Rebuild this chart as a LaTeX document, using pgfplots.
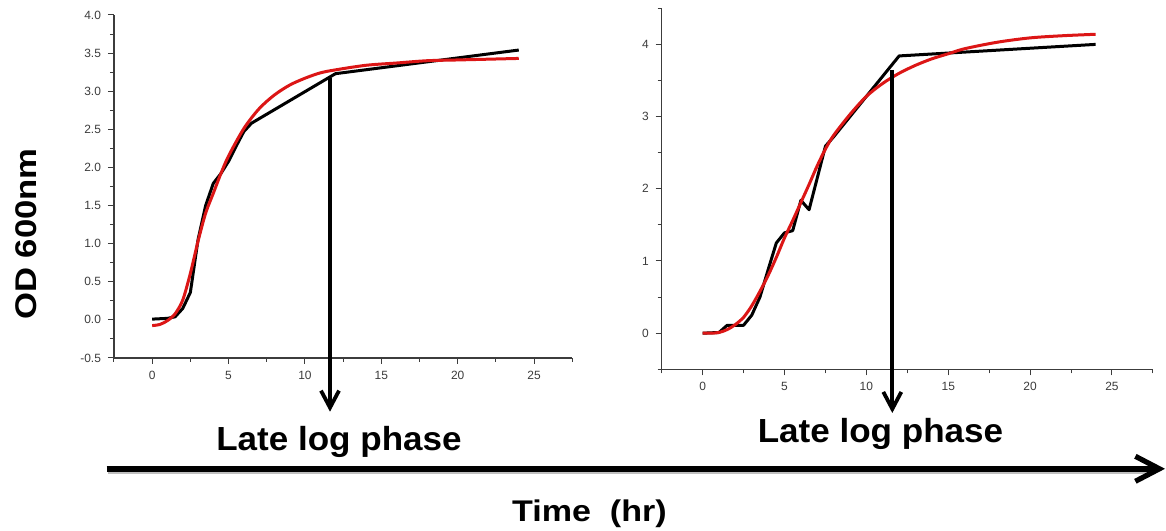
\documentclass[border=0pt]{standalone}
\usepackage{fontspec}
\setmainfont{Liberation Sans}
\usepackage{pgfplots}
\pgfplotsset{compat=1.18}
\usetikzlibrary{arrows.meta}

\definecolor{fitred}{RGB}{220,22,22}
\definecolor{axgray}{RGB}{60,60,60}

\pgfplotsset{
  growth/.style={
    scale only axis,
    axis x line*=bottom,
    axis y line*=left,
    xmin=-2.5, xmax=27.5,
    xtick={0,5,...,25},
    minor xtick={-2.5,2.5,...,27.5},
    tick align=outside,
    major tick length=3bp,
    minor tick length=2bp,
    every tick/.style={axgray, line width=0.5bp},
    axis line style={axgray, line width=0.6bp},
    ticklabel style={font=\fontsize{6}{7}\selectfont, text=axgray},
    /pgf/number format/assume math mode=true,
    clip=false,
  },
  raw/.style={black, line width=1.5bp, line join=round},
  fit/.style={fitred, line width=1.5bp, smooth},
}

\begin{document}
% picture units: 1 px of the 1166x531 reference = 0.5bp, origin bottom left
\begin{tikzpicture}[x=0.5bp, y=0.5bp]
\path[use as bounding box] (0,0) rectangle (1166,531);
\coordinate (leftorigin) at (114,173);
\coordinate (rightorigin) at (661.7,161.7);

% left panel
\begin{axis}[growth,
  at={(leftorigin)}, anchor=south west,
  width=229.1bp, height=171.5bp,
  ymin=-0.5, ymax=4.0,
  ytick={-0.5,0,...,4.0},
  minor ytick={-0.25,0.25,...,3.75},
  yticklabel style={/pgf/number format/.cd, fixed, fixed zerofill, precision=1},
]
\addplot[raw] coordinates {
  (0,0.01) (1,0.02) (1.5,0.04) (2,0.15) (2.5,0.36) (3,1.05) (3.5,1.50)
  (4,1.79) (4.5,1.92) (5,2.08) (5.5,2.28) (6,2.47) (6.5,2.58)
  (12,3.23) (24,3.54)
};
\addplot[fit] coordinates {
  (0,-0.075) (0.5,-0.06) (1,-0.01) (1.5,0.08) (2,0.26) (2.5,0.61)
  (3,1.03) (3.5,1.40) (4,1.66) (4.5,1.92) (5,2.15) (6,2.51) (7,2.77)
  (8,2.95) (9,3.08) (10,3.17) (11,3.24) (12,3.28) (14,3.34) (16,3.37)
  (18,3.40) (20,3.41) (22,3.42) (24,3.43)
};
\end{axis}

% right panel
\begin{axis}[growth,
  at={(rightorigin)}, anchor=south west,
  width=245.6bp, height=180.5bp,
  ymin=-0.5, ymax=4.5,
  ytick={0,1,...,4},
  minor ytick={-0.5,0.5,...,4.5},
]
\addplot[raw] coordinates {
  (0,0) (1,0.01) (1.5,0.11) (2,0.11) (2.5,0.11) (3,0.25) (3.5,0.50)
  (4,0.88) (4.5,1.25) (5,1.39) (5.5,1.42) (6,1.84) (6.5,1.71)
  (7.5,2.59) (8,2.72) (12,3.84) (24,4.00)
};
\addplot[fit] coordinates {
  (0,0) (0.5,0) (1,0.01) (1.5,0.05) (2,0.12) (2.5,0.22) (3,0.38)
  (3.5,0.58) (4,0.80) (4.5,1.05) (5,1.32) (5.5,1.56) (6,1.81) (6.5,2.06)
  (7,2.32) (7.5,2.55) (8,2.74) (9,3.03) (10,3.28) (11,3.46) (12,3.60)
  (13,3.71) (14,3.80) (15,3.87) (16,3.94) (18,4.03) (20,4.09) (22,4.12)
  (24,4.14)
};
\end{axis}

% annotations
\draw[line width=2.1bp, -{Straight Barb[length=8.5bp, width=9bp, line width=1.9bp]}]
  (330,453) -- (330,119.3);
\draw[line width=2.1bp, -{Straight Barb[length=8.5bp, width=9bp, line width=1.9bp]}]
  (892.3,461) -- (892.3,118);

\node[anchor=base, inner sep=0pt] at (339,80.3)
  {\scalebox{1.05}[1]{\fontsize{16.75}{18}\selectfont\bfseries Late log phase}};
\node[anchor=base, inner sep=0pt] at (880.5,88.3)
  {\scalebox{1.05}[1]{\fontsize{16.75}{18}\selectfont\bfseries Late log phase}};

\draw[black!25, line width=2.8bp] (108,59.5) -- (1150,59.5);
\draw[line width=2.8bp, -{Straight Barb[length=12bp, width=12.5bp, line width=2.6bp]}]
  (106.7,62.2) -- (1165,62.2);

\node[anchor=base west, inner sep=0pt] at (511.7,9.3)
  {\scalebox{1.14}[1]{\fontsize{15}{17}\selectfont\bfseries Time\ \ (hr)}};
\node[rotate=90, inner sep=0pt] at (26,297)
  {\scalebox{1.16}[1]{\fontsize{15}{17}\selectfont\bfseries OD 600nm}};
\end{tikzpicture}
\end{document}
